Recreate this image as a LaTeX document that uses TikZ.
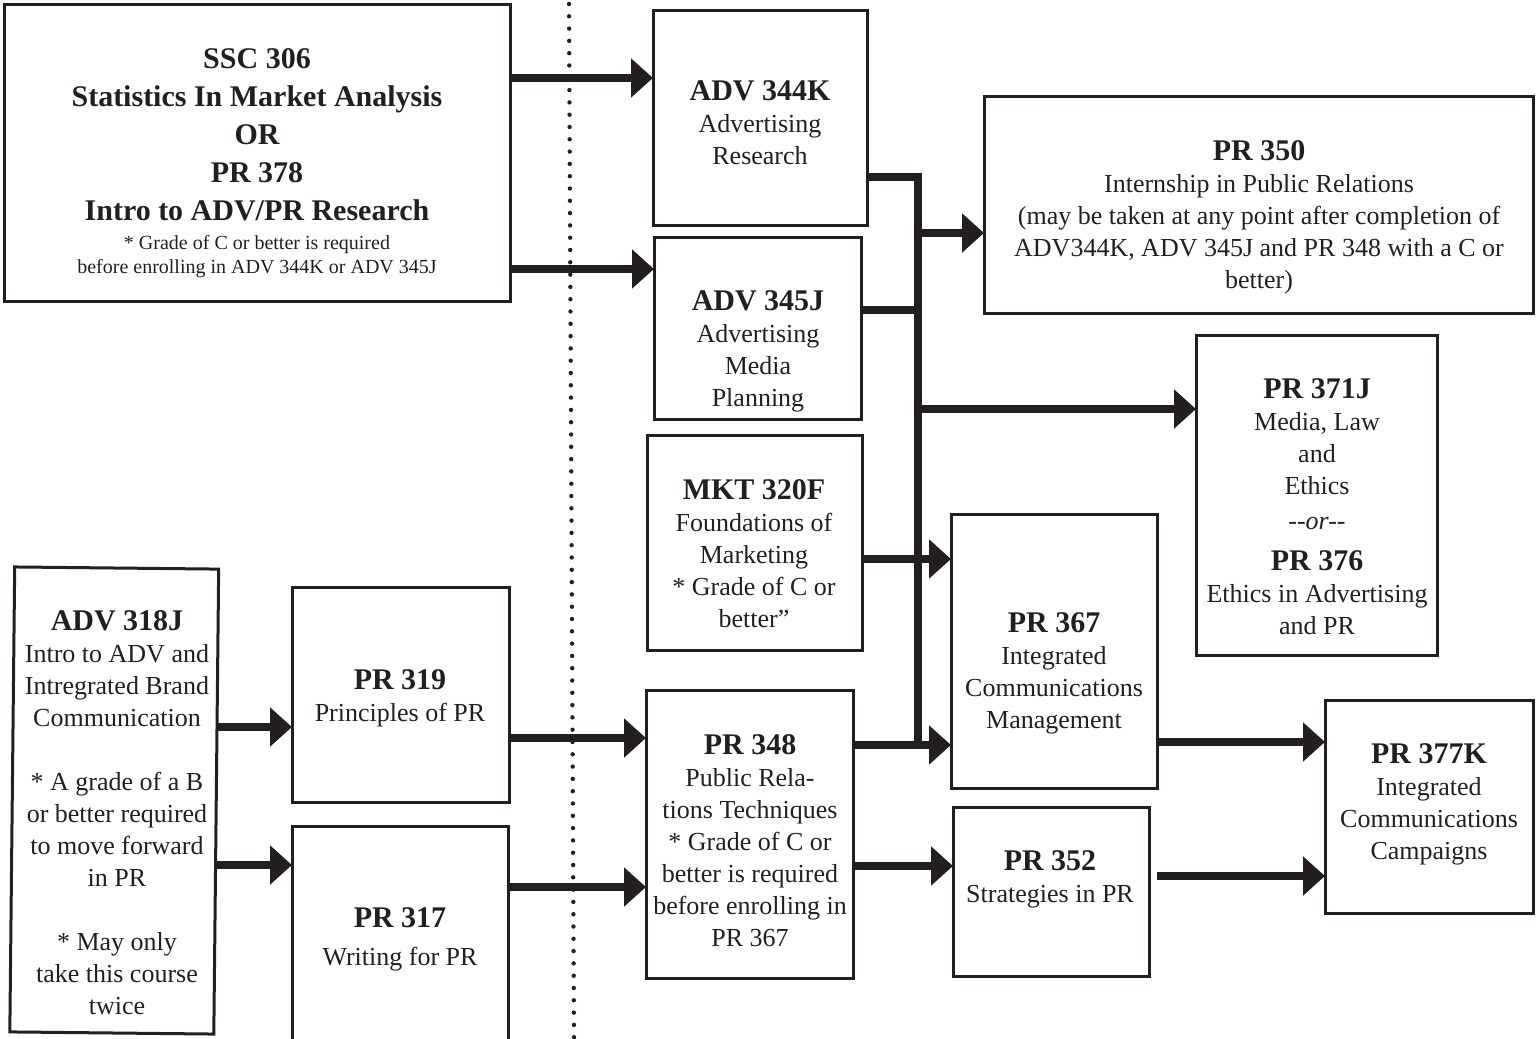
\documentclass[tikz,border=0pt]{standalone}
\usepackage{fontspec}
\setmainfont{Liberation Serif}
\usetikzlibrary{arrows.meta}
\definecolor{ink}{RGB}{35,31,32}
\newcommand\ttl{\fontsize{15}{19}\selectfont\bfseries}
\begin{document}
\begin{tikzpicture}[x=0.5pt,y=-0.5pt,
  box/.style={draw=ink, line width=1.5pt, inner sep=0pt, outer sep=0pt, rectangle},
  lbl/.style={anchor=north, inner sep=0pt, align=center, text=ink, font=\fontsize{13}{16}\selectfont},
  arr/.style={draw=ink, line width=4pt, -{Triangle[length=11pt,width=19pt]}},
  bus/.style={draw=ink, line width=4pt},
  dots/.style={draw=ink, line width=2.2pt, line cap=round, dash pattern=on 0pt off 6.15pt}]
\useasboundingbox (0,0) rectangle (1540,1038);

% boxes
\node[box, minimum width=253pt, minimum height=148pt] (ssc) at (257,153) {};
\node[box, minimum width=107pt, minimum height=107pt] (adv344) at (760,118) {};
\node[box, minimum width=103.5pt, minimum height=91pt] (adv345) at (757.5,328) {};
\node[box, minimum width=107.5pt, minimum height=107.5pt] (mkt) at (754.5,542.5) {};
\node[box, minimum width=274.5pt, minimum height=108pt] (pr350) at (1258.5,205) {};
\node[box, minimum width=120.5pt, minimum height=160pt] (pr371) at (1316.5,495) {};
\node[box, minimum width=103pt, minimum height=137pt] (pr367) at (1054,651) {};
\node[box, minimum width=98pt, minimum height=84.5pt] (pr352) at (1051,891.5) {};
\node[box, minimum width=104pt, minimum height=106.5pt] (pr377) at (1429,806.5) {};
\node[box, minimum width=103.5pt, minimum height=144pt] (pr348) at (749.5,834) {};
\node[box, minimum width=108.5pt, minimum height=107.5pt] (pr319) at (400.5,694.5) {};
\node[box, minimum width=108pt, minimum height=117pt] (pr317) at (400,943) {};
\node[box, minimum width=102pt, minimum height=232.5pt, rotate=-0.6] (adv318) at (114.25,800.5) {};

% texts
\node[lbl, font=\ttl] (sscT) at (257,48) {SSC 306\\Statistics In Market Analysis\\OR\\PR 378\\Intro to ADV/PR Research};
\node[lbl, font=\fontsize{10}{12}\selectfont] (sscN) at (257,235) {* Grade of C or better is required\\before enrolling in ADV 344K or ADV 345J};
\node[lbl] (t344) at (760,80) {{\ttl ADV 344K}\\Advertising\\Research};
\node[lbl] (t345) at (758,290) {{\ttl ADV 345J}\\Advertising\\Media\\Planning};
\node[lbl] (tmkt) at (754,479) {{\ttl MKT 320F}\\Foundations of\\Marketing\\* Grade of C or\\better”};
\node[lbl] (t350) at (1259,140) {{\ttl PR 350}\\Internship in Public Relations\\(may be taken at any point after completion of\\ADV344K, ADV 345J and PR 348 with a C or\\better)};
\node[lbl] (t371) at (1317,378) {{\ttl PR 371J}\\Media, Law\\and\\Ethics\\[1.5pt]\textit{-{}-or-{}-}\\[4.5pt]{\ttl PR 376}\\Ethics in Advertising\\and PR};
\node[lbl] (t367) at (1054,612) {{\ttl PR 367}\\Integrated\\Communications\\Management};
\node[lbl] (t377) at (1429,743) {{\ttl PR 377K}\\Integrated\\Communications\\Campaigns};
\node[lbl] (t352) at (1050,850) {{\ttl PR 352}\\Strategies in PR};
\node[lbl] (t348) at (750,734) {{\ttl PR 348}\\Public Rela-\\tions Techniques\\* Grade of C or\\better is required\\before enrolling in\\PR 367};
\node[lbl] (t319) at (400,669) {{\ttl PR 319}\\Principles of PR};
\node[lbl] (t317) at (400,907) {{\ttl PR 317}\\[3pt]Writing for PR};
\node[lbl] (t318) at (117,610) {{\ttl ADV 318J}\\Intro to ADV and\\Intregrated Brand\\Communication\\[16pt]* A grade of a B\\or better required\\to move forward\\in PR\\[16pt]* May only\\take this course\\twice};

% dotted divider
\coordinate (d1) at (569,4);
\coordinate (d2) at (574,1038);
\draw[dots] (d1) -- (d2);

% connectors
\coordinate (bj) at (918,745);
\coordinate (p352o) at ([xshift=4pt]pr352.east);
\draw[arr] (ssc.east |- 0,78) -- (adv344.west |- 0,78);
\draw[arr] (ssc.east |- 0,269) -- (adv345.west |- 0,269);
\draw[bus] (adv344.east |- 0,177) -| (bj);
\draw[bus] (adv345.east |- 0,310) -- (bj |- 0,310);
\draw[arr] (bj |- 0,233) -- (pr350.west |- 0,233);
\draw[arr] (bj |- 0,409) -- (pr371.west |- 0,409);
\draw[arr] (mkt.east |- 0,559) -- (pr367.west |- 0,559);
\draw[arr] (pr348.east |- 0,745) -- (pr367.west |- 0,745);
\draw[arr] (pr348.east |- 0,866) -- (pr352.west |- 0,866);
\draw[arr] (pr367.east |- 0,742) -- (pr377.west |- 0,742);
\draw[arr] (p352o |- 0,876) -- (pr377.west |- 0,876);
\draw[arr] (adv318.east |- 0,727) -- (pr319.west |- 0,727);
\draw[arr] (adv318.east |- 0,865) -- (pr317.west |- 0,865);
\draw[arr] (pr319.east |- 0,738) -- (pr348.west |- 0,738);
\draw[arr] (pr317.east |- 0,887) -- (pr348.west |- 0,887);
\end{tikzpicture}
\end{document}
